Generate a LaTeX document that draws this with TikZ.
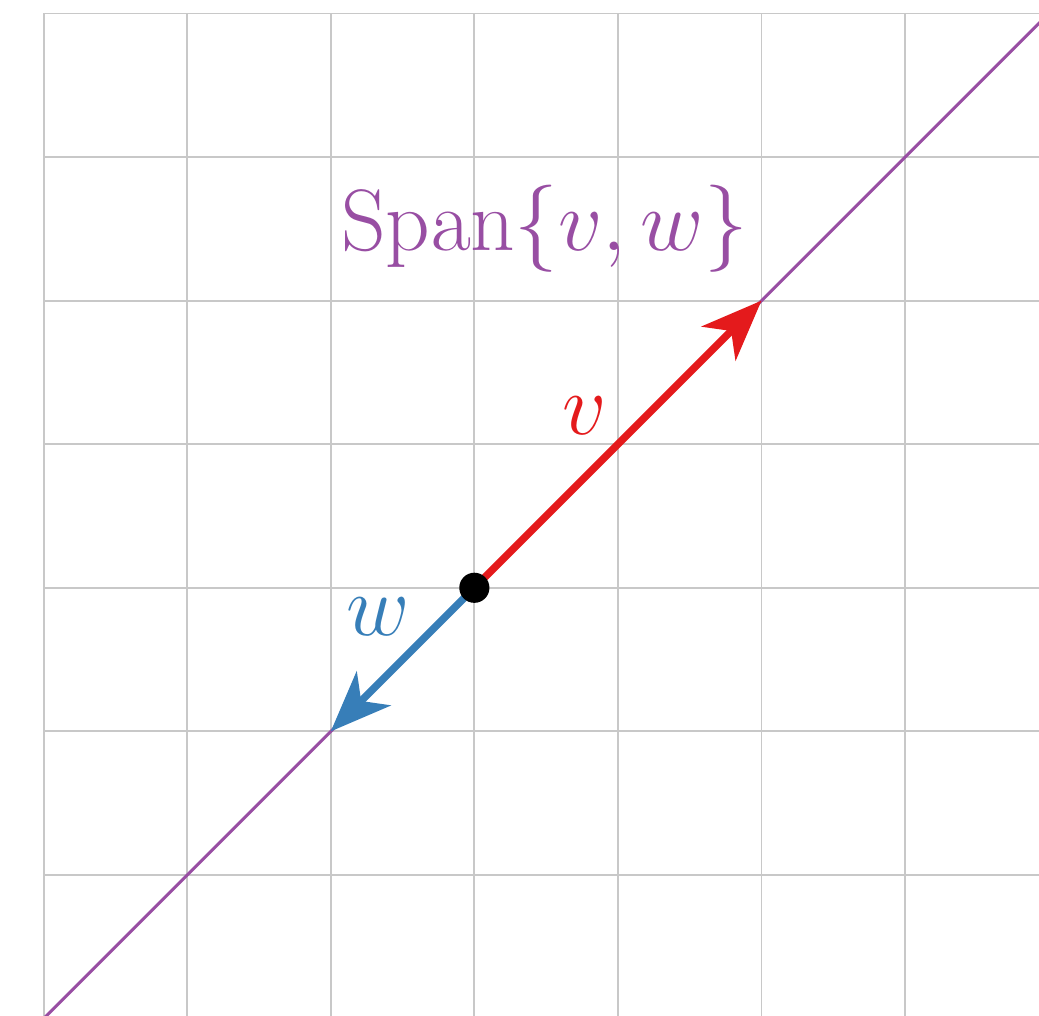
\documentclass[tikz,border=0pt]{standalone}
\definecolor{spanPurple}{HTML}{984EA3}
\definecolor{vecRed}{HTML}{E41A1C}
\definecolor{vecBlue}{HTML}{377EB8}
\definecolor{gridGrey}{HTML}{C8C8C8}
\usepackage{tikz}
\usetikzlibrary{arrows.meta, positioning}
\tikzset{
    grid line/.style={draw=gridGrey, line width=0.35pt},
    span line/.style={draw=spanPurple, line width=0.6pt},
    vector arrow/.style={-{Stealth[length=12pt, width=9.5pt, inset=3.5pt]}, line width=1.5pt},
    origin dot/.style={circle, fill=black, inner sep=0pt, minimum size=0.21cm},
    vec label/.style={font=\fontsize{16.5}{20}\selectfont},
}

\begin{document}
\begin{tikzpicture}
        \useasboundingbox (-3.304,-2.977) rectangle (3.933,4.094);
        \clip (-3.304,-2.977) rectangle (3.933,4.094);
        \draw[grid line] (-3,-3) grid (4,4);
        \coordinate (spanlo) at (-4,-4);
        \coordinate (spanhi) at (5,5);
        \coordinate (o) at (0,0);
        \coordinate (vtip) at (2,2);
        \coordinate (wtip) at (-1,-1);
        \draw[span line] (spanlo) -- (spanhi);
        \draw[vector arrow, vecRed] (o) -- (vtip);
        \draw[vector arrow, vecBlue] (o) -- (wtip);
        \node[origin dot] (origin) at (o) {};
        \node[vec label, text=vecRed] (vlabel) at (0.77,1.2) {$v$};
        \node[vec label, text=vecBlue] (wlabel) at (-0.67,-0.2) {$w$};
        \node[vec label, text=spanPurple] (spanlabel) at (0.49,2.5) {$\mathrm{Span}\{v, w\}$};
    \end{tikzpicture}
\end{document}
